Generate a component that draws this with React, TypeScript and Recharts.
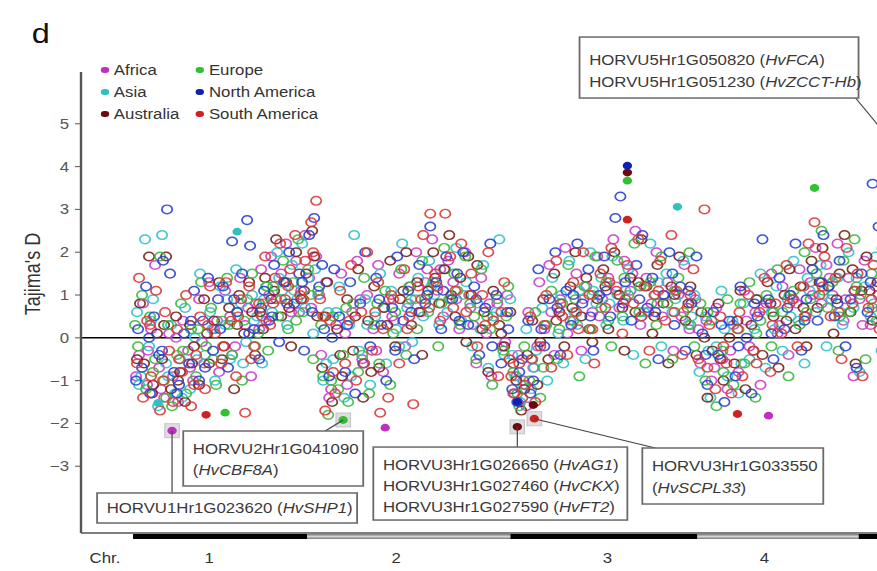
import React from 'react';
import { ScatterChart, Scatter, XAxis, YAxis, ReferenceLine, ReferenceDot } from 'recharts';

// [genome position (cumulative, arbitrary units), Tajima's D]
type Pt = [number, number];

// Chromosome layout along the genome axis
const CHR_BOUNDS = [0, 174, 377, 564, 725, 800];
const CHR_TICKS = [-28, 76, 263, 474, 631];
const CHR_LABELS = ['Chr.', '1', '2', '3', '4'];
const Y_TICKS = [-3, -2, -1, 0, 1, 2, 3, 4, 5];

// Open circles = all genes, per continent
const AFRICA_OPEN: Pt[] = [
  [6, -0.4], [10, 0.8], [14, -1.1], [18, 0.2], [22, 1.7], [26, -0.7], [31, -1.4], [36, 0.1], [40, -0.9], [45, -1.5],
  [50, 0.4], [55, -0.3], [60, -1.0], [66, 0.9], [71, -0.6], [76, 1.3], [81, 0.2], [86, -0.8], [92, 1.1], [97, 0.5],
  [102, -0.2], [107, 1.4], [112, 0.3], [118, -0.9], [123, 0.8], [128, 1.6], [133, 0.4], [138, 1.9], [143, 0.9], [148, 1.5],
  [153, 2.2], [158, 0.6], [163, 1.8], [168, 1.1], [172, 2.4], [178, 0.7], [183, 1.9], [188, -0.4], [193, 1.3], [198, -1.2],
  [203, 0.3], [208, 1.5], [214, -1.1], [219, 0.6], [224, 1.8], [229, -0.5], [234, 1.0], [240, 0.2], [245, 1.7], [250, -0.8],
  [256, 0.9], [261, 0.4], [266, 1.5], [272, -0.2], [277, 1.2], [283, 2.0], [288, 0.6], [294, 1.6], [299, 2.3], [304, 1.1],
  [310, 0.5], [315, 1.8], [320, 1.3], [326, 0.2], [332, 2.0], [337, 0.7], [343, -0.6], [348, 1.4], [353, 0.1], [358, -0.9],
  [364, 0.8], [369, -0.2], [374, 1.0], [380, -1.3], [385, -0.4], [390, -1.0], [395, 0.6], [400, -0.7], [406, 1.3], [411, 0.2],
  [416, 1.7], [421, -0.4], [427, 0.9], [432, 2.1], [437, 0.4], [443, 1.5], [448, -0.3], [453, 1.2], [459, 0.6], [464, 1.9],
  [469, 0.9], [475, 1.4], [480, 2.3], [486, 0.7], [491, 1.8], [497, 1.1], [502, 2.5], [507, 0.3], [513, 1.4], [518, 0.8],
  [523, 2.0], [529, 0.5], [534, 1.3], [540, -0.3], [545, 1.0], [551, 1.7], [556, 0.2], [562, 0.9], [567, -0.6], [573, 0.4],
  [578, -1.0], [583, 0.7], [589, -0.5], [594, -1.2], [600, 0.3], [605, -0.8], [611, 1.1], [616, -0.2], [622, 0.6], [627, -1.1],
  [633, 0.8], [638, 1.5], [644, 0.1], [649, 1.2], [655, -0.4], [660, 0.9], [666, 1.6], [671, 0.5], [677, 1.3], [682, 2.1],
  [688, 0.8], [693, 1.7], [699, 1.0], [704, 2.2], [710, 0.4], [715, 1.4], [720, -0.9], [726, 0.9], [731, 1.8], [737, 0.3],
  [742, 1.2], [748, 0.7], [754, 2.0],
  [3, -0.9], [15, -0.3], [28, -1.2], [43, 0.0], [57, -0.7], [69, -0.1], [84, 0.4], [99, -0.4], [115, 0.7], [126, 0.2],
  [136, 1.0], [151, 1.3], [166, 0.6], [176, 1.4], [186, 1.0], [196, -1.4], [212, 0.1], [227, 0.9], [243, -0.3], [259, 0.5],
  [275, 0.8], [292, 1.3], [307, 1.6], [323, 0.9], [340, 0.3], [356, 0.8], [372, -0.1], [383, -0.9], [393, -1.6], [404, -0.2],
  [418, 0.6], [434, 0.1], [450, 0.9], [466, 0.5], [483, 1.2], [499, 1.5], [515, 0.6], [531, 1.0], [548, 0.5], [565, 0.2],
  [581, -0.7], [597, -0.3], [613, 0.4], [630, 0.7], [646, 0.3], [663, 0.8], [679, 1.0], [696, 1.4], [712, 0.9], [729, 0.3],
  [745, 1.0], [758, 1.5],
];

const ASIA_OPEN: Pt[] = [
  [4, 0.6], [8, -0.9], [12, 2.3], [16, -0.2], [20, 0.9], [25, -1.6], [29, 2.4], [33, -0.6], [38, 0.3], [42, -1.3],
  [47, -0.5], [52, 0.7], [57, -1.2], [62, 0.0], [67, 1.5], [72, -0.4], [77, 0.6], [82, -1.0], [87, 1.2], [92, 0.3],
  [97, -0.5], [103, 1.6], [108, 0.8], [113, -0.1], [119, 1.0], [124, 0.5], [129, -0.6], [134, 1.2], [139, 0.6], [144, 2.0],
  [149, 1.1], [154, 0.3], [159, 1.7], [164, 0.9], [169, 2.2], [175, 1.4], [180, 0.1], [185, 1.0], [190, -1.0], [195, 0.6],
  [200, -0.5], [206, 1.2], [211, -1.4], [216, 0.3], [221, 2.4], [226, -0.3], [232, 0.9], [237, -1.1], [242, 0.5], [247, 1.5],
  [253, -0.6], [258, 1.1], [263, 0.2], [269, 2.2], [274, 0.7], [279, -0.1], [285, 1.4], [290, 0.5], [296, 1.8], [301, 1.0],
  [306, 0.3], [312, 1.6], [317, 0.9], [323, 2.1], [328, 0.4], [333, 1.3], [339, -0.2], [344, 0.8], [350, 1.7], [355, -0.7],
  [360, 0.5], [366, 2.3], [371, -0.4], [377, 0.9], [382, -0.9], [387, -1.5], [393, 0.2], [398, -1.2], [403, -0.3], [409, 0.7],
  [414, -1.0], [419, 1.4], [425, 0.1], [430, -0.6], [436, 1.8], [441, 0.6], [446, 1.1], [452, -0.5], [457, 2.0], [463, 0.8],
  [468, 1.4], [473, 0.3], [479, 1.9], [484, 1.0], [490, 0.4], [495, 1.6], [500, -0.4], [506, 1.2], [511, 0.6], [517, 2.2],
  [522, 1.0], [528, -0.2], [533, 1.5], [539, 0.6], [550, 1.8], [555, 0.3], [561, 1.0], [566, -0.8], [572, 0.5], [577, -1.4],
  [583, -0.2], [588, 1.1], [594, -0.9], [599, 0.4], [605, -1.3], [610, 0.8], [616, -0.5], [621, 0.2], [627, 1.5], [632, -0.7],
  [638, 0.6], [643, 1.2], [649, -0.3], [654, 0.9], [660, 1.8], [665, 0.4], [671, -0.6], [676, 1.1], [682, 0.6], [687, 1.7],
  [693, -0.2], [698, 0.9], [704, 1.4], [709, 0.3], [715, 2.0], [720, 0.7], [726, -0.8], [731, 1.2], [737, 0.5], [742, 1.9],
  [748, -0.3], [753, 0.9],
  [6, -1.1], [18, 0.4], [35, -0.9], [49, -1.4], [64, -0.5], [79, 0.2], [94, 0.9], [110, -0.6], [121, 0.4], [131, 0.9],
  [146, 1.4], [161, 1.1], [172, 0.7], [182, 1.6], [193, -0.6], [203, 0.6], [218, -0.9], [234, 0.3], [250, 0.7], [266, -0.2],
  [282, 0.9], [298, 1.2], [314, 0.6], [330, 1.0], [347, 0.2], [363, 0.6], [379, -0.4], [390, -1.1], [401, -0.7], [412, 0.3],
  [428, 1.0], [444, 0.3], [460, 1.1], [476, 0.8], [492, 1.1], [508, 0.5], [525, 1.3], [542, 0.9], [558, 0.5], [575, -0.3],
  [591, 0.2], [608, -0.6], [624, 0.9], [641, 0.2], [657, 0.5], [674, 1.4], [690, 1.0], [707, 0.6], [723, 1.4], [740, 0.8],
  [757, 1.3],
];

const AUSTRALIA_OPEN: Pt[] = [
  [7, 0.8], [11, -0.6], [16, 1.9], [20, -1.1], [24, 0.1], [29, -0.5], [33, 1.9], [38, -1.2], [43, 0.5], [47, -0.8],
  [52, -1.5], [57, 0.3], [61, -0.2], [66, -1.1], [71, 0.9], [76, -0.6], [81, 0.4], [86, 1.3], [91, -0.2], [96, 0.7],
  [101, -1.2], [106, 1.0], [111, 0.1], [116, 1.3], [122, -0.4], [127, 0.6], [132, 1.4], [138, 0.9], [143, 2.3], [148, 0.5],
  [153, 1.3], [158, -0.2], [163, 2.0], [168, 0.9], [173, 1.5], [179, 2.5], [184, 0.5], [189, -0.7], [194, 1.3], [199, -1.5],
  [204, 0.2], [209, -0.9], [214, 0.9], [220, -0.3], [225, 1.6], [230, -1.4], [235, 0.4], [241, 1.2], [246, -0.7], [251, 0.7],
  [257, 1.8], [262, -0.2], [267, 0.9], [273, 2.0], [278, 0.3], [284, 1.3], [289, -0.4], [295, 1.1], [300, 2.0], [306, 0.8],
  [311, 1.6], [316, 2.4], [322, 0.5], [327, 1.4], [333, -0.1], [338, 1.0], [344, 1.7], [349, 0.2], [355, -0.8], [360, 1.1],
  [366, 0.3], [371, -0.2], [377, 0.6], [383, -1.0], [388, -1.7], [394, -0.4], [399, 0.4], [404, -1.1], [410, 0.9], [415, -0.5],
  [421, 1.5], [426, 0.6], [431, -0.2], [437, 1.2], [442, 2.0], [448, 0.5], [453, 1.4], [459, -0.1], [464, 0.9], [470, 1.6],
  [475, 0.2], [481, 2.0], [486, 1.0], [491, -0.3], [497, 1.4], [502, 0.6], [508, 2.3], [513, 1.2], [519, 0.1], [524, 1.7],
  [530, 0.8], [535, -0.6], [541, 1.0], [546, 1.9], [552, 0.4], [557, 1.2], [563, -0.4], [568, 0.6], [574, -1.4], [579, -0.3],
  [585, 0.8], [590, -1.0], [596, 0.0], [601, -0.6], [607, 1.1], [612, -1.2], [618, 0.3], [623, 0.9], [629, -0.4], [634, 1.3],
  [640, 0.5], [645, -0.7], [651, 1.0], [656, 1.6], [662, 0.2], [667, 1.2], [673, -0.2], [678, 1.8], [684, 0.7], [689, 2.1],
  [695, 1.2], [700, 0.1], [706, 1.5], [711, 2.4], [717, 0.6], [722, -0.6], [728, 1.1], [733, 1.9], [739, 0.4], [744, 1.3],
  [750, -0.2], [755, 0.8],
  [4, -0.5], [19, -1.3], [31, 0.3], [45, -1.0], [59, -0.6], [74, 0.1], [89, -0.5], [104, 0.3], [119, 0.6], [130, 0.2],
  [141, 1.1], [156, 0.7], [171, 1.1], [181, 1.9], [192, 0.5], [207, -0.4], [222, 0.5], [238, -0.8], [254, 0.3], [270, 1.1],
  [286, 0.6], [302, 1.4], [318, 1.0], [335, 1.9], [351, 0.6], [368, 0.1], [380, -0.6], [391, -1.2], [407, -0.1], [423, 0.4],
  [439, 0.7], [456, 0.2], [472, 1.2], [489, 0.7], [505, 1.3], [521, 0.5], [538, 1.2], [555, 0.8], [571, 0.0], [587, -0.5],
  [604, 0.4], [620, -0.3], [637, 0.8], [653, 0.4], [670, 0.7], [686, 1.3], [703, 0.9], [719, 1.6], [736, 1.1], [752, 0.6],
];

const EUROPE_OPEN: Pt[] = [
  [5, -0.2], [9, 1.0], [13, -1.2], [17, 0.5], [22, -0.5], [27, 1.9], [31, -1.0], [35, 0.3], [39, -1.6], [44, -0.4],
  [48, 0.8], [53, -1.3], [58, 0.2], [63, -0.9], [68, 1.3], [73, -0.2], [78, 0.7], [83, -1.1], [89, 0.4], [94, 1.4],
  [99, -0.4], [104, 0.6], [109, -1.0], [114, 0.9], [119, 1.5], [125, 0.1], [130, 0.8], [135, -0.3], [140, 1.2], [145, 0.5],
  [150, 1.8], [155, 0.2], [160, 1.3], [165, 2.3], [170, 0.6], [175, 1.6], [180, -0.5], [185, 1.1], [190, -0.9], [195, -1.8],
  [200, 0.5], [205, -1.2], [210, -0.4], [215, -1.5], [220, 0.8], [225, -0.8], [231, 1.4], [236, -1.3], [241, 0.3], [246, -0.6],
  [252, 1.1], [257, -1.1], [262, 0.6], [268, 1.6], [273, -0.4], [278, 0.9], [284, 0.2], [289, 1.8], [295, 0.6], [300, 1.3],
  [305, -0.2], [311, 2.1], [316, 0.9], [321, 1.5], [327, 0.3], [332, 1.9], [337, 0.8], [343, -0.5], [348, 1.6], [354, 0.5],
  [359, -1.1], [364, 0.9], [370, -0.3], [375, 1.2], [380, -0.8], [386, -1.6], [391, -0.2], [396, -1.0], [402, 0.6], [407, -1.4],
  [413, 0.3], [418, 1.1], [424, -0.5], [429, 0.8], [435, 1.7], [440, 0.4], [446, -0.9], [451, 1.2], [457, 0.2], [462, 1.9],
  [468, 0.7], [473, 1.3], [478, -0.2], [484, 1.8], [489, 0.5], [495, 1.0], [501, 2.2], [506, 0.6], [512, -0.6], [517, 1.3],
  [523, 0.3], [528, 1.9], [534, 0.8], [539, -0.5], [545, 1.4], [550, 0.6], [556, 2.0], [561, -0.2], [567, 0.8], [572, -1.0],
  [578, 0.4], [583, -1.6], [589, -0.3], [594, 0.9], [600, -1.1], [605, 0.2], [611, -0.6], [616, 1.3], [622, -1.4], [627, 0.4],
  [633, 1.0], [638, -0.2], [644, 1.6], [649, 0.6], [655, -0.9], [660, 1.1], [666, 0.3], [671, 2.0], [677, 0.9], [683, 1.5],
  [688, 2.5], [694, 0.7], [699, 1.3], [705, -0.3], [710, 1.8], [716, 0.6], [721, 2.3], [727, 1.0], [732, -0.5], [738, 1.5],
  [743, 0.4], [749, 2.1], [755, 0.9],
  [2, 0.3], [20, -0.8], [33, -1.4], [50, -0.3], [65, 0.2], [80, -0.5], [96, 0.3], [111, 0.4], [122, -0.2], [133, 1.2],
  [148, 0.9], [163, 0.4], [178, 1.0], [188, 0.3], [198, -1.0], [213, 0.7], [229, -0.4], [244, 0.8], [260, 0.1], [276, 1.2],
  [292, 0.9], [308, 0.8], [324, 1.1], [341, 0.5], [357, 0.2], [373, 0.5], [384, -1.3], [398, -0.5], [410, -0.7], [426, 0.2],
  [442, 0.9], [459, 1.0], [475, 0.4], [491, 1.4], [507, 1.2], [524, 0.8], [541, 1.1], [557, 0.3], [574, 0.6], [590, -0.8],
  [607, 0.8], [623, 0.1], [640, 0.6], [656, 1.0], [673, 0.6], [690, 1.1], [706, 0.5], [723, 1.2], [739, 0.7], [756, 1.4],
];

const NORTH_AMERICA_OPEN: Pt[] = [
  [5, 0.2], [9, -0.7], [13, 1.2], [17, -1.3], [21, 0.5], [26, -0.4], [30, 1.8], [34, 3.0], [37, 1.5], [41, -0.8],
  [46, -1.1], [51, 0.1], [56, -0.6], [61, 1.1], [66, -1.0], [70, 0.4], [75, 1.4], [80, -0.3], [85, 0.9], [90, 1.2],
  [95, -0.7], [99, 2.25], [104, 0.6], [109, 1.5], [114, 2.75], [117, 2.15], [121, 0.2], [126, -0.5], [131, 1.1], [136, 0.4],
  [141, 1.7], [146, -0.1], [151, 1.3], [156, 2.0], [161, 0.8], [166, 1.5], [171, -0.3], [176, 2.4], [181, 2.8], [186, 1.2],
  [191, 0.2], [196, -0.9], [201, 1.6], [206, 0.5], [212, -0.8], [217, 1.3], [222, -1.3], [227, 0.8], [232, 2.0], [237, -0.2],
  [243, 1.4], [248, 0.3], [253, -1.0], [259, 0.7], [264, 1.9], [270, 0.4], [275, 1.1], [281, -0.5], [286, 1.7], [292, 0.8],
  [297, 2.6], [303, 1.3], [308, 0.2], [313, 1.9], [319, 0.9], [324, 1.5], [330, 2.0], [335, 0.3], [341, 1.2], [346, -0.4],
  [352, 0.7], [357, 2.2], [363, 1.0], [368, -0.6], [374, 0.6], [379, -1.2], [384, -1.5], [389, -0.5], [395, 0.4], [400, -1.0],
  [405, 1.6], [411, -0.2], [416, 0.9], [422, 2.0], [427, -0.4], [433, 1.1], [438, 0.3], [444, 2.2], [449, 0.8], [455, 1.6],
  [460, -0.3], [466, 1.0], [471, 1.9], [477, 0.5], [482, 2.8], [487, 3.3], [492, 1.3], [498, 0.4], [503, 1.7], [509, 2.4],
  [514, 0.7], [519, 1.4], [525, -0.5], [530, 1.0], [536, 2.0], [541, 0.3], [547, 1.2], [552, -0.3], [558, 0.8], [563, 1.9],
  [569, 0.1], [574, -1.1], [580, 0.6], [585, -0.4], [591, -1.5], [596, 0.4], [602, -0.9], [607, 1.2], [613, 0.0], [618, -1.3],
  [624, 0.5], [629, 2.3], [635, 0.9], [640, -0.5], [646, 1.4], [651, 0.2], [657, 1.0], [662, 2.2], [668, -0.3], [673, 0.9],
  [679, 1.6], [684, 0.4], [690, 2.4], [695, 1.2], [701, 0.5], [706, 1.8], [712, -0.2], [717, 0.9], [723, -0.7], [728, 1.5],
  [734, 0.6], [739, 3.6], [745, 2.6], [750, 1.1], [756, 0.2],
  [3, -1.0], [16, 0.0], [29, -0.3], [44, -1.3], [58, 0.4], [72, -0.7], [87, 0.2], [101, 0.9], [116, 0.1], [128, 0.7],
  [139, 0.5], [154, 0.8], [169, 1.3], [179, 0.6], [189, 1.7], [199, 0.0], [214, 0.3], [230, -0.6], [246, 0.9], [262, -0.3],
  [278, 0.6], [294, 1.0], [310, 1.1], [326, 0.4], [343, 0.9], [359, -0.2], [375, 0.2], [386, -0.8], [397, -1.3], [408, 0.2],
  [424, 0.7], [440, 1.0], [457, 0.5], [473, 1.1], [490, 0.8], [506, 0.9], [522, 0.6], [539, 1.5], [555, 1.1], [572, -0.4],
  [588, 0.3], [605, -0.2], [621, 0.8], [638, 0.1], [654, 0.7], [671, 0.4], [688, 1.3], [704, 0.8], [721, 1.1], [737, 1.3],
  [754, 0.7],
];

const SOUTH_AMERICA_OPEN: Pt[] = [
  [6, 1.4], [10, -1.4], [14, 0.4], [18, -0.9], [23, 1.1], [27, -1.7], [32, 0.6], [36, -0.3], [40, -1.5], [44, 0.2],
  [49, -0.8], [53, 1.0], [58, -1.6], [63, -0.4], [67, 0.5], [72, -1.2], [77, 1.2], [82, 0.1], [88, -0.6], [93, 1.3],
  [98, 0.4], [103, -0.9], [108, 0.9], [112, -1.75], [116, 1.2], [121, -0.2], [126, 0.8], [132, 1.9], [137, 0.3], [142, 1.4],
  [147, 2.2], [152, 0.9], [157, 1.6], [162, 2.4], [167, 1.0], [172, 1.8], [178, 2.7], [183, 3.2], [187, 0.9], [192, -1.7],
  [197, 0.4], [202, -1.3], [207, 1.1], [212, -0.6], [218, 1.7], [223, -1.0], [228, 0.6], [234, 2.0], [239, -0.3], [245, 1.3],
  [247, -1.75], [250, 0.2], [255, -1.4], [260, 0.9], [266, -0.6], [271, 1.6], [276, 0.5], [280, -1.55], [285, 1.2], [290, 2.4],
  [296, 0.7], [297, 2.9], [302, 1.5], [307, 0.4], [312, 2.9], [317, 1.9], [322, 1.1], [328, 2.2], [333, 0.6], [338, 1.5],
  [344, -0.2], [349, 1.0], [355, 2.0], [360, 0.4], [365, -0.9], [371, 1.3], [376, -0.5], [381, -1.3], [386, -0.6], [392, -1.1],
  [397, 0.5], [402, -1.5], [407, -0.2], [413, 1.0], [418, -0.7], [423, 1.8], [429, 0.5], [434, -0.4], [440, 1.3], [445, 0.2],
  [450, 2.0], [456, 1.0], [461, -0.6], [467, 1.5], [472, 0.7], [478, 2.1], [483, 1.1], [489, 0.1], [494, 1.7], [500, 0.8],
  [505, 2.3], [511, 1.2], [516, -0.3], [521, 1.0], [527, 1.8], [532, 0.4], [538, 2.4], [543, 1.1], [549, -0.4], [554, 0.7],
  [560, 1.6], [565, -0.5], [571, 3.0], [576, 0.3], [582, -1.2], [587, 0.5], [593, -0.6], [598, -1.3], [604, 0.2], [609, -0.9],
  [615, 1.0], [620, -0.3], [626, 0.6], [631, 1.4], [637, -0.8], [642, 0.8], [648, 0.1], [653, 1.7], [659, 0.9], [664, -0.2],
  [670, 1.2], [675, 2.2], [681, 2.7], [686, 1.0], [691, 1.9], [697, 0.5], [702, 1.4], [708, -0.5], [713, 2.1], [719, 0.8],
  [724, 1.5], [729, -0.9], [735, 0.7], [740, 1.7], [746, 0.2], [751, 1.2],
  [4, -0.6], [17, 0.3], [30, -1.0], [46, -0.5], [61, -1.1], [75, 0.3], [90, -0.2], [105, 0.5], [118, -0.5], [129, 0.5],
  [140, 0.8], [155, 1.2], [170, 0.9], [180, 2.0], [190, 0.5], [200, -0.8], [216, 0.4], [231, -0.6], [242, 0.6], [258, 1.0],
  [274, 0.2], [288, 0.9], [304, 1.2], [320, 0.7], [336, 1.0], [352, 0.3], [368, 0.6], [378, -0.9], [389, -1.4], [399, -0.5],
  [411, 0.3], [427, 0.8], [443, 0.6], [459, 0.2], [476, 1.3], [492, 0.9], [508, 0.5], [525, 1.1], [541, 0.6], [557, 1.0],
  [574, -0.7], [590, -0.2], [606, 0.6], [623, -0.6], [639, 0.3], [656, 0.8], [672, 0.5], [689, 1.2], [705, 0.6], [721, 1.1],
  [738, 0.9], [754, 0.4],
];

// Filled dots = significant genes
const AFRICA_SIG: Pt[] = [[39, -2.17], [252, -2.1], [635, -1.82]];
const ASIA_SIG: Pt[] = [[25, -1.52], [104, 2.48], [544, 3.06]];
const AUSTRALIA_SIG: Pt[] = [[494, 3.86], [384, -2.08], [400, -1.57]];
const EUROPE_SIG: Pt[] = [[92, -1.75], [210, -1.92], [494, 3.67], [681, 3.5]];
const NORTH_AMERICA_SIG: Pt[] = [[494, 4.02], [384, -1.5]];
const SOUTH_AMERICA_SIG: Pt[] = [[73, -1.8], [494, 2.76], [401, -1.89], [604, -1.78]];

// Highlighted candidate genes (grey square behind the dot)
const HIGHLIGHT: Pt[] = [[39, -2.17], [210, -1.92], [384, -2.08], [401, -1.89]];

const SERIES = [
  { name: 'Africa', color: '#cc3ccc', dot: '#c030c0', open: AFRICA_OPEN, sig: AFRICA_SIG },
  { name: 'Asia', color: '#30c2cc', dot: '#30c0c0', open: ASIA_OPEN, sig: ASIA_SIG },
  { name: 'Australia', color: '#742418', dot: '#6a0a0a', open: AUSTRALIA_OPEN, sig: AUSTRALIA_SIG },
  { name: 'Europe', color: '#3cb83c', dot: '#30c030', open: EUROPE_OPEN, sig: EUROPE_SIG },
  { name: 'North America', color: '#2a42d0', dot: '#1020b0', open: NORTH_AMERICA_OPEN, sig: NORTH_AMERICA_SIG },
  { name: 'South America', color: '#dc3a3a', dot: '#d02020', open: SOUTH_AMERICA_OPEN, sig: SOUTH_AMERICA_SIG },
];

// Gene annotations: anchor in data units, box/line offsets in px from the anchor
const ANNOTATIONS = [
  {
    at: [39, -2.17], box: { dx: -62.5, dy: 62.3, w: 216.7, h: 30 }, to: [0, 62.3],
    lines: [[['HORVU1Hr1G023620 (', false], ['HvSHP1', true], [')', false]]], base: [20],
  },
  {
    at: [210, -1.92], box: { dx: -133.3, dy: 11, w: 150, h: 55 }, to: [-15, 11],
    lines: [[['HORVU2Hr1G041090', false]], [['(', false], ['HvCBF8A', true], [')', false]]], base: [23, 44],
  },
  {
    at: [384, -2.08], box: { dx: -120, dy: 20.2, w: 211.7, h: 73 }, to: [0, 20.2],
    lines: [
      [['HORVU3Hr1G026650 (', false], ['HvAG1', true], [')', false]],
      [['HORVU3Hr1G027460 (', false], ['HvCKX', true], [')', false]],
      [['HORVU3Hr1G027590 (', false], ['HvFT2', true], [')', false]],
    ],
    base: [23, 44, 65],
  },
  {
    at: [401, -1.89], box: { dx: 90, dy: 29.3, w: 150.8, h: 56 }, to: [100.8, 29.3],
    lines: [[['HORVU3Hr1G033550', false]], [['(', false], ['HvSCPL33', true], [')', false]]], base: [23, 45],
  },
  {
    at: [772, 4.2], box: { dx: -271.7, dy: -121, w: 232.5, h: 61 }, to: [-41.7, -60],
    lines: [
      [['HORVU5Hr1G050820 (', false], ['HvFCA', true], [')', false]],
      [['HORVU5Hr1G051230 (', false], ['HvZCCT-Hb', true], [')', false]],
    ],
    base: [28, 50],
  },
];

const FONT = '"Liberation Sans", Arial, Helvetica, sans-serif';
const STRETCH = 1.2; // the source figure is stretched horizontally
const Y_DOMAIN: [number, number] = [-4.56, 6.21];
const BAR_Y = -4.64;

const toRows = (pts: Pt[]) => pts.map(([pos, d]) => ({ pos, d }));

const ring = (color: string) => (props: any) => (
  <circle cx={props.cx} cy={props.cy} r={4.3} fill="none" stroke={color} strokeWidth={1.45} strokeOpacity={0.9} />
);
const filled = (color: string) => (props: any) => (
  <circle cx={props.cx} cy={props.cy} r={3.9} fill={color} />
);
const square = (props: any) => (
  <rect x={props.cx - 6} y={props.cy - 7} width={12} height={14} fill="#e2dde2" stroke="#c8c4c8" strokeWidth={1} />
);

const annotationShape = (a: any) => (props: any) => {
  const { cx, cy } = props;
  const bx = cx + a.box.dx;
  const by = cy + a.box.dy;
  return (
    <g>
      <line x1={cx} y1={cy} x2={cx + a.to[0]} y2={cy + a.to[1]} stroke="#444" strokeWidth={1} />
      <rect x={bx} y={by} width={a.box.w} height={a.box.h} fill="#fff" stroke="#6a6a6a" strokeWidth={1.5} />
      {a.lines.map((line: any[], i: number) => (
        <text key={i} x={bx + 8} y={by + a.base[i]} fontSize={14} fontFamily={FONT} fill="#3a3a3a">
          {line.map(([t, it]: [string, boolean], j: number) => (
            <tspan key={j} fontStyle={it ? 'italic' : 'normal'}>{t}</tspan>
          ))}
        </text>
      ))}
    </g>
  );
};

const LEGEND_COLS = [87.5, 166.7];
const LEGEND_ROWS = [70, 92, 114];

const App: React.FC = () => {
  return (
    <div style={{ position: 'absolute', left: 0, top: 0, width: 877, height: 571, overflow: 'hidden', background: '#fff' }}>
      <div style={{ position: 'relative', width: 778, height: 571, transform: `scaleX(${STRETCH})`, transformOrigin: '0 0', fontFamily: FONT }}>
        <ScatterChart width={778} height={571} margin={{ top: 72, right: 0, bottom: 0, left: 0 }}>
          <XAxis
            type="number"
            dataKey="pos"
            domain={[-52, 800]}
            ticks={CHR_TICKS}
            tickFormatter={(v: number) => CHR_LABELS[CHR_TICKS.indexOf(v)] ?? ''}
            interval={0}
            height={38}
            tickLine={false}
            tickSize={0}
            tickMargin={20}
            axisLine={{ stroke: '#555', strokeWidth: 1.5 }}
            tick={{ fill: '#333', fontSize: 14, fontFamily: FONT }}
          />
          <YAxis
            type="number"
            dataKey="d"
            domain={Y_DOMAIN}
            ticks={Y_TICKS}
            tickFormatter={(v: number) => (v < 0 ? '\u2212' + Math.abs(v) : String(v))}
            width={67.5}
            tickSize={5}
            tickMargin={5}
            axisLine={{ stroke: '#555', strokeWidth: 2 }}
            tickLine={{ stroke: '#555' }}
            tick={{ fill: '#555', fontSize: 14, fontFamily: FONT }}
          />
          {CHR_BOUNDS.slice(0, -1).map((start, i) => (
            <ReferenceLine
              key={`chr-${i}`}
              segment={[{ x: start, y: BAR_Y }, { x: CHR_BOUNDS[i + 1], y: BAR_Y }]}
              stroke={i % 2 === 0 ? '#000' : '#8a8a8a'}
              strokeWidth={5}
              ifOverflow="visible"
            />
          ))}
          {CHR_BOUNDS.slice(0, -1).map((start, i) =>
            i % 2 === 1 ? (
              <ReferenceLine
                key={`chr-in-${i}`}
                segment={[{ x: start, y: BAR_Y }, { x: CHR_BOUNDS[i + 1], y: BAR_Y }]}
                stroke="#d4d4d4"
                strokeWidth={2}
                ifOverflow="visible"
              />
            ) : null
          )}
          {SERIES.map((s) => (
            <Scatter key={`open-${s.name}`} name={s.name} data={toRows(s.open)} shape={ring(s.color)} isAnimationActive={false} />
          ))}
          <ReferenceLine y={0} stroke="#000" strokeWidth={1.6} />
          <Scatter name="highlight" data={toRows(HIGHLIGHT)} shape={square} isAnimationActive={false} />
          {SERIES.map((s) => (
            <Scatter key={`sig-${s.name}`} name={`${s.name} sig`} data={toRows(s.sig)} shape={filled(s.dot)} isAnimationActive={false} />
          ))}
          {ANNOTATIONS.map((a, i) => (
            <ReferenceDot
              key={`ann-${i}`}
              x={a.at[0]}
              y={a.at[1]}
              r={0}
              ifOverflow="visible"
              shape={annotationShape(a)}
              zIndex={2000}
            />
          ))}
        </ScatterChart>

        <div style={{ position: 'absolute', left: 26.5, top: 21, fontSize: 27, lineHeight: '27px', color: '#111' }}>d</div>
        <div
          style={{
            position: 'absolute', left: 28.3, top: 274, fontSize: 18, color: '#333', whiteSpace: 'nowrap',
            transform: 'translate(-50%, -50%) rotate(-90deg)',
          }}
        >
          Tajima's D
        </div>

        {SERIES.map((s, i) => {
          const col = Math.floor(i / 3);
          const row = i % 3;
          return (
            <div
              key={`leg-${s.name}`}
              style={{
                position: 'absolute', left: LEGEND_COLS[col] - 3.4, top: LEGEND_ROWS[row] - 9, height: 18,
                display: 'flex', alignItems: 'center', gap: 4, fontSize: 14, color: '#333', whiteSpace: 'nowrap',
              }}
            >
              <span style={{ width: 6.8, height: 6.8, borderRadius: '50%', background: s.dot, display: 'inline-block' }} />
              <span>{s.name}</span>
            </div>
          );
        })}
      </div>
    </div>
  );
};

export default App;
